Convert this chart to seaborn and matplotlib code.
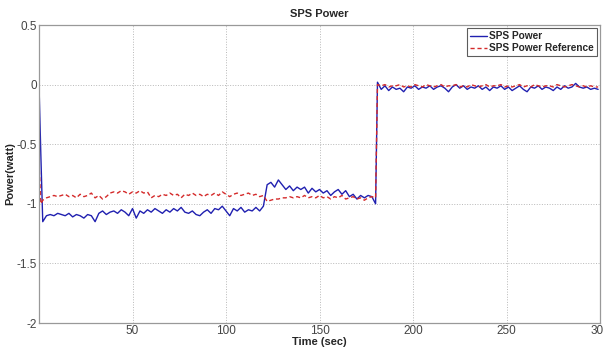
import numpy as np
import pandas as pd
import matplotlib
matplotlib.use("Agg")
import matplotlib.pyplot as plt
import seaborn as sns

# ---- data ----
time_sec = np.concatenate([[0, 1], np.arange(2, 181, 2), [181], np.arange(183, 301, 2)])

sps_power = [
    0.00, -0.60,
    -1.15, -1.10, -1.09, -1.10, -1.08, -1.09, -1.10, -1.08, -1.11, -1.09,
    -1.10, -1.12, -1.09, -1.10, -1.15, -1.08, -1.06, -1.09, -1.07, -1.06,
    -1.08, -1.05, -1.07, -1.10, -1.04, -1.12, -1.06, -1.08, -1.05, -1.07,
    -1.04, -1.06, -1.08, -1.05, -1.07, -1.04, -1.06, -1.03, -1.07, -1.08,
    -1.06, -1.09, -1.10, -1.07, -1.05, -1.08, -1.04, -1.05, -1.02, -1.06,
    -1.10, -1.04, -1.06, -1.03, -1.07, -1.05, -1.06, -1.03, -1.06, -1.02,
    -0.84, -0.82, -0.86, -0.80, -0.84, -0.88, -0.85, -0.89, -0.86, -0.88,
    -0.86, -0.91, -0.87, -0.90, -0.88, -0.91, -0.89, -0.93, -0.90, -0.88,
    -0.92, -0.89, -0.94, -0.92, -0.96, -0.93, -0.95, -0.93, -0.94, -1.00,
    0.02, -0.04, -0.01, -0.05, -0.02, -0.04, -0.03, -0.06, -0.02, -0.03,
    -0.01, -0.04, -0.02, -0.03, -0.01, -0.04, -0.02, -0.01, -0.03, -0.06,
    -0.02, 0.00, -0.03, -0.01, -0.04, -0.02, -0.03, -0.01, -0.04, -0.02,
    -0.05, -0.02, -0.03, -0.01, -0.04, -0.02, -0.05, -0.03, -0.01, -0.04,
    -0.06, -0.02, -0.03, -0.01, -0.04, -0.02, -0.03, -0.05, -0.02, -0.04,
    -0.01, -0.03, -0.02, 0.01, -0.02, -0.03, -0.02, -0.04, -0.03, -0.04,
]

sps_reference = [
    -0.66, -1.00,
    -0.97, -0.95, -0.94, -0.93, -0.94, -0.93, -0.92, -0.94, -0.93, -0.95,
    -0.92, -0.94, -0.93, -0.91, -0.95, -0.93, -0.96, -0.94, -0.91, -0.90,
    -0.91, -0.89, -0.90, -0.92, -0.90, -0.91, -0.89, -0.91, -0.90, -0.95,
    -0.93, -0.94, -0.92, -0.93, -0.91, -0.93, -0.92, -0.95, -0.92, -0.93,
    -0.91, -0.93, -0.92, -0.94, -0.92, -0.93, -0.91, -0.93, -0.90, -0.92,
    -0.94, -0.92, -0.91, -0.93, -0.92, -0.91, -0.93, -0.92, -0.94, -0.93,
    -0.98, -0.97, -0.96, -0.96, -0.95, -0.95, -0.94, -0.95, -0.94, -0.95,
    -0.93, -0.95, -0.94, -0.95, -0.93, -0.95, -0.94, -0.96, -0.94, -0.95,
    -0.93, -0.96, -0.95, -0.94, -0.96, -0.95, -0.97, -0.95, -0.94, -0.95,
    0.00, -0.01, 0.00, -0.02, -0.01, -0.01, 0.00, -0.02, -0.01, -0.02,
    0.00, -0.01, -0.02, 0.00, -0.01, -0.02, -0.01, 0.00, -0.02, -0.01,
    -0.01, 0.00, -0.02, -0.01, -0.02, 0.00, -0.01, -0.02, -0.01, 0.00,
    -0.02, -0.01, -0.01, 0.00, -0.02, -0.01, -0.02, -0.01, 0.00, -0.02,
    -0.01, -0.02, 0.00, -0.01, -0.02, -0.01, -0.01, -0.02, 0.00, -0.01,
    -0.02, -0.01, 0.00, -0.01, -0.02, -0.01, -0.02, -0.01, -0.02, -0.02,
]

x_ticks = [50, 100, 150, 200, 250, 300]
y_ticks = [-2, -1.5, -1, -0.5, 0, 0.5]
y_tick_labels = ["-2", "-1.5", "-1", "-0.5", "0", "0.5"]

df = pd.DataFrame({
    "Time": np.concatenate([time_sec, time_sec]),
    "Power": np.concatenate([sps_power, sps_reference]),
    "Series": ["SPS Power"] * len(time_sec) + ["SPS Power Reference"] * len(time_sec),
})

# ---- style ----
sns.set_style("white")
plt.rcParams["font.family"] = ["Liberation Sans", "DejaVu Sans"]

fig = plt.figure(figsize=(6.03, 3.48), dpi=100)
ax = fig.add_axes([39 / 603, (348 - 323) / 348, (600 - 39) / 603, (323 - 25) / 348])

sns.lineplot(
    data=df, x="Time", y="Power", hue="Series", style="Series",
    palette={"SPS Power": "#2020b0", "SPS Power Reference": "#d42a2a"},
    dashes={"SPS Power": "", "SPS Power Reference": (3, 2)},
    linewidth=1.0, sort=False, estimator=None, ax=ax,
)

ax.set_xlim(0, 300)
ax.set_ylim(-2, 0.5)
ax.set_xticks(x_ticks)
ax.set_yticks(y_ticks)
ax.set_yticklabels(y_tick_labels)
ax.tick_params(direction="in", length=3, labelsize=8.5, colors="#444444", pad=1.5)
ax.grid(True, linestyle=":", color="#b8b8b8", linewidth=0.7)
for s in ax.spines.values():
    s.set_color("#999999")
    s.set_linewidth(0.9)

ax.set_title("SPS Power", fontsize=8, fontweight="bold", pad=6)
ax.set_xlabel("Time (sec)", fontsize=8, fontweight="bold", labelpad=0)
ax.set_ylabel("Power(watt)", fontsize=8, fontweight="bold", labelpad=1)

leg = ax.legend(loc="upper right", fontsize=7.3, frameon=True, fancybox=False,
                borderpad=0.3, labelspacing=0.2, handlelength=1.7,
                handletextpad=0.2, borderaxespad=0.3)
leg.get_frame().set_edgecolor("#333333")
leg.get_frame().set_linewidth(0.8)
for t in leg.get_texts():
    t.set_fontweight("bold")

fig.savefig("out.png", dpi=100)
